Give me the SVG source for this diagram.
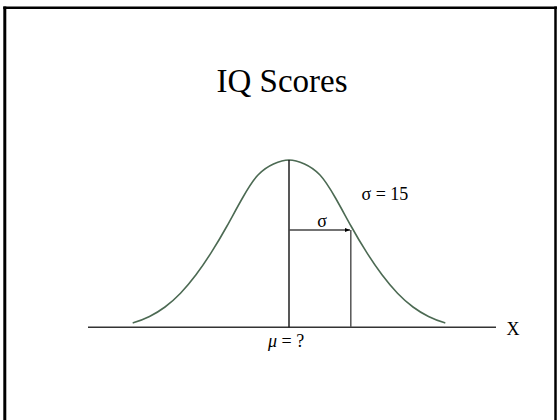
<svg xmlns="http://www.w3.org/2000/svg" width="557" height="420" viewBox="0 0 557 420">
  <defs>
    <style>
      text { font-family: "Liberation Serif", "Times New Roman", serif; fill: #000; }
      .lbl { font-size: 18px; }
      .frame { fill: none; stroke: #000; }
    </style>
    <marker id="arrow" viewBox="0 0 10 10" refX="10" refY="5" markerWidth="5" markerHeight="5" orient="auto" markerUnits="userSpaceOnUse">
      <path d="M0,1 L10,5 L0,9 Z" fill="#000"/>
    </marker>
  </defs>
  <rect width="557" height="420" fill="#fff"/>
  <g id="frame">
    <line class="frame" x1="4.8" y1="6.5" x2="4.8" y2="420" stroke-width="3"/>
    <line class="frame" x1="3.3" y1="7.8" x2="557" y2="7.8" stroke-width="2.5"/>
    <line class="frame" x1="555.5" y1="6.5" x2="555.5" y2="420" stroke-width="2.5"/>
  </g>
  <g id="title">
    <text x="282" y="92" font-size="33" text-anchor="middle">IQ Scores</text>
  </g>
  <g id="curve">
    <path d="M132.7,322.9 L134,322.53 C139.17,320.98 144.33,319.01 149.5,316.47 C154.67,313.93 159.83,310.83 165,307.0 C170.17,303.17 175.33,298.58 180.5,293.22 C185.67,287.86 190.83,281.71 196,274.81 C201.17,267.91 206.33,260.28 211.5,252.17 C216.67,244.06 221.83,235.3 227,226 C232.17,216.7 237.33,207.042 242.5,198 C247.67,188.958 252.83,180.425 258,175 C263.17,169.575 268.33,166.325 273.5,164 C278.67,161.675 283.83,160 289,160 C294.17,160 299.33,161.675 304.5,164 C309.67,166.325 314.83,169.575 320,175 C325.17,180.425 330.33,188.958 335.5,198 C340.67,207.042 345.83,216.7 351,226 C356.17,235.3 361.33,244.06 366.5,252.17 C371.67,260.28 376.83,267.91 382,274.81 C387.17,281.71 392.33,287.86 397.5,293.22 C402.67,298.58 407.83,303.17 413,307.0 C418.17,310.83 423.33,313.93 428.5,316.47 C433.67,319.01 438.83,320.98 444,322.53 L445.3,322.9" fill="none" stroke="#4c6a53" stroke-width="1.6"/>
  </g>
  <g id="connectors">
    <line id="x-axis" x1="88" y1="327.3" x2="496" y2="327.3" stroke="#333" stroke-width="1.5"/>
    <line id="mean-line" x1="289" y1="160" x2="289" y2="327.3" stroke="#111" stroke-width="1.4"/>
    <line id="sigma-line" x1="350.8" y1="230" x2="350.8" y2="327.3" stroke="#555" stroke-width="1.5"/>
    <line id="sigma-arrow" x1="289" y1="230" x2="350" y2="230" stroke="#444" stroke-width="1.4" marker-end="url(#arrow)"/>
  </g>
  <g id="labels">
    <text class="lbl" x="361.5" y="200">σ = 15</text>
    <text class="lbl" x="322" y="227" text-anchor="middle">σ</text>
    <text class="lbl" x="268" y="346.5"><tspan font-style="italic">μ</tspan> = ?</text>
    <text class="lbl" x="506.5" y="335">X</text>
  </g>
</svg>
